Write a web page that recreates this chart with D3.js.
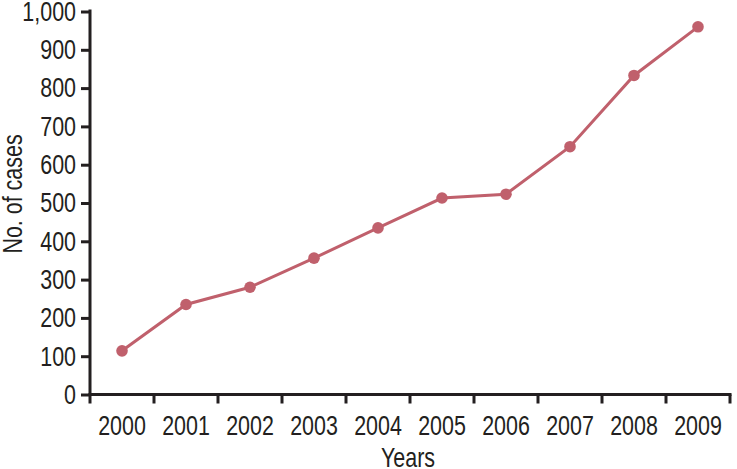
<!DOCTYPE html>
<html>
<head>
<meta charset="utf-8">
<script src="https://cdn.jsdelivr.net/npm/d3@7"></script>
<style>
  html, body { margin: 0; padding: 0; background: #fff; }
  svg { display: block; }
  text { font-family: "Liberation Sans", Arial, sans-serif; fill: #231f20; }
</style>
</head>
<body>
<svg id="chart" width="737" height="469"></svg>
<script>
const years = ["2000","2001","2002","2003","2004","2005","2006","2007","2008","2009"];
const cases = [114, 235, 280, 356, 435, 513, 523, 647, 833, 960];
const yTicks = [0,100,200,300,400,500,600,700,800,900,1000];
const xTitle = "Years";
const yTitle = "No. of cases";

(function () {
const svg = d3.select("#chart");
const mLeft = 90, mRight = 730, mTop = 11.5, mBottom = 394.5;
const axisColor = "#231f20";
const lineColor = "#c0606c";
const fontFam = '"Liberation Sans", Arial, sans-serif';
const fs = 27.5;

const x = d3.scaleBand().domain(years).range([mLeft, mRight]).padding(0);
const y = d3.scaleLinear().domain([0, 1000]).range([mBottom, mTop]);

// Y axis
const yAxis = svg.append("g").attr("transform", `translate(${mLeft},0)`)
  .call(d3.axisLeft(y).tickValues(yTicks).tickSize(9).tickSizeOuter(0).tickPadding(5)
    .tickFormat(d3.format(",")));
yAxis.selectAll("path,line").attr("stroke", axisColor).attr("stroke-width", 3);
yAxis.select(".domain").attr("d", `M0,${mTop - 2}V${mBottom}`);
yAxis.selectAll("text").attr("font-size", fs).attr("fill", axisColor).attr("font-family", fontFam);

// X axis
const xAxis = svg.append("g").attr("transform", `translate(0,${mBottom})`)
  .call(d3.axisBottom(x).tickSize(0).tickSizeOuter(0).tickPadding(21));
xAxis.select(".domain").attr("stroke", axisColor).attr("stroke-width", 3)
  .attr("d", `M${mLeft - 1.5},0H${mRight + 1.5}`);
xAxis.selectAll("text").attr("font-size", fs).attr("fill", axisColor).attr("font-family", fontFam);
const boundaries = years.map(d => x(d)).concat([x(years[years.length - 1]) + x.bandwidth()]);
xAxis.selectAll("line.bound").data(boundaries).join("line")
  .attr("class", "bound")
  .attr("x1", d => d).attr("x2", d => d)
  .attr("y1", 0).attr("y2", 9)
  .attr("stroke", axisColor).attr("stroke-width", 3);

// Line
const line = d3.line()
  .x((d, i) => x(years[i]) + x.bandwidth() / 2)
  .y(d => y(d));
svg.append("path").datum(cases)
  .attr("d", line)
  .attr("fill", "none")
  .attr("stroke", lineColor)
  .attr("stroke-width", 3);
svg.selectAll("circle.pt").data(cases).join("circle")
  .attr("class", "pt")
  .attr("cx", (d, i) => x(years[i]) + x.bandwidth() / 2)
  .attr("cy", d => y(d))
  .attr("r", 5.8)
  .attr("fill", lineColor);

// Titles
svg.append("text")
  .attr("x", (mLeft + mRight) / 2 - 2)
  .attr("y", 467)
  .attr("text-anchor", "middle")
  .attr("font-size", fs)
  .attr("font-family", fontFam)
  .text(xTitle);
svg.append("text")
  .attr("transform", `translate(21.5,194) rotate(-90)`)
  .attr("text-anchor", "middle")
  .attr("font-size", fs)
  .attr("font-family", fontFam)
  .text(yTitle);

// condense all text (reference uses a condensed face)
svg.selectAll("text").each(function () {
  const len = this.getComputedTextLength();
  d3.select(this).attr("textLength", len * 0.78).attr("lengthAdjust", "spacingAndGlyphs");
});
})();
</script>
</body>
</html>
